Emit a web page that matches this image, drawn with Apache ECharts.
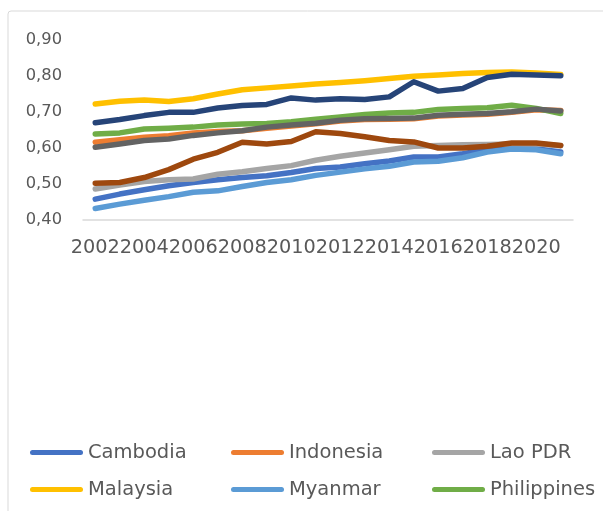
<!DOCTYPE html>
<html>
<head>
<meta charset="utf-8">
<script src="https://cdn.jsdelivr.net/npm/echarts@6/dist/echarts.min.js"></script>
<style>
  html, body { margin: 0; padding: 0; background: #fff; }
  #chart { width: 603px; height: 511px; }
</style>
</head>
<body>
<div id="chart"></div>
<script>
// years on the category axis
const years = ['2002', '2003', '2004', '2005', '2006', '2007', '2008', '2009', '2010', '2011',
  '2012', '2013', '2014', '2015', '2016', '2017', '2018', '2019', '2020', '2021']

// y axis ticks
const yTicks = [0.4, 0.5, 0.6, 0.7, 0.8, 0.9]

// values
const cambodia = [0.458, 0.472, 0.484, 0.495, 0.504, 0.512, 0.518, 0.523, 0.532, 0.543,
  0.547, 0.556, 0.564, 0.575, 0.575, 0.584, 0.595, 0.600, 0.598, 0.589]
const indonesia = [0.616, 0.623, 0.630, 0.634, 0.642, 0.646, 0.648, 0.655, 0.661, 0.667,
  0.675, 0.679, 0.680, 0.681, 0.689, 0.692, 0.694, 0.699, 0.706, 0.704]
const laoPdr = [0.486, 0.497, 0.507, 0.512, 0.514, 0.527, 0.534, 0.543, 0.551, 0.566,
  0.577, 0.586, 0.595, 0.605, 0.607, 0.609, 0.610, 0.611, 0.612, 0.606]
const malaysia = [0.722, 0.730, 0.733, 0.729, 0.737, 0.750, 0.762, 0.767, 0.772, 0.778,
  0.782, 0.787, 0.793, 0.799, 0.803, 0.807, 0.810, 0.811, 0.808, 0.804]
const myanmar = [0.432, 0.444, 0.455, 0.465, 0.477, 0.481, 0.493, 0.504, 0.512, 0.524,
  0.533, 0.542, 0.549, 0.561, 0.563, 0.573, 0.589, 0.597, 0.595, 0.584]
const philippines = [0.639, 0.642, 0.653, 0.655, 0.658, 0.664, 0.667, 0.668, 0.673, 0.680,
  0.686, 0.693, 0.697, 0.699, 0.707, 0.710, 0.712, 0.719, 0.710, 0.696]
const thailand = [0.670, 0.679, 0.690, 0.699, 0.699, 0.711, 0.718, 0.721, 0.739, 0.733,
  0.737, 0.735, 0.742, 0.784, 0.758, 0.765, 0.796, 0.805, 0.803, 0.801]
const timorLeste = [0.502, 0.504, 0.518, 0.540, 0.569, 0.588, 0.616, 0.611, 0.618, 0.645,
  0.640, 0.631, 0.621, 0.617, 0.600, 0.600, 0.605, 0.614, 0.614, 0.607]
const vietNam = [0.602, 0.611, 0.621, 0.625, 0.635, 0.642, 0.648, 0.658, 0.664, 0.669,
  0.677, 0.681, 0.682, 0.683, 0.691, 0.694, 0.696, 0.701, 0.708, 0.703]

const names = ['Cambodia', 'Indonesia', 'Lao PDR', 'Malaysia', 'Myanmar', 'Philippines',
  'Thailand', 'Timor-Leste', 'Viet Nam']
const values = [cambodia, indonesia, laoPdr, malaysia, myanmar, philippines, thailand, timorLeste, vietNam]
const colors = ['#4472C4', '#ED7D31', '#A5A5A5', '#FFC000', '#5B9BD5', '#70AD47',
  '#264478', '#9E480E', '#636363']
// only the first six show in the legend (the rest are cut off)
const legendNames = names.slice(0, 6)

const myChart = echarts.init(document.getElementById('chart'))

const option = {
  animation: false,
  color: colors,
  textStyle: { fontFamily: 'DejaVu Sans' },
  graphic: [
    {
      type: 'rect',
      shape: { x: 8, y: 11, width: 700, height: 600, r: 3 },
      style: { fill: 'none', stroke: '#d9d9d9', lineWidth: 1 },
      silent: true
    }
  ],
  grid: {
    left: 83,
    right: 30,
    top: 40,
    bottom: 291
  },
  xAxis: {
    type: 'category',
    data: years,
    boundaryGap: true,
    axisLine: { lineStyle: { color: '#d9d9d9', width: 1.5 } },
    axisTick: { show: false },
    axisLabel: {
      interval: 1,
      color: '#595959',
      fontSize: 19.3,
      margin: 18,
      fontFamily: 'DejaVu Sans'
    }
  },
  yAxis: {
    type: 'value',
    min: yTicks[0],
    max: yTicks[yTicks.length - 1],
    interval: 0.1,
    splitLine: { show: false },
    axisLine: { show: false },
    axisTick: { show: false },
    axisLabel: {
      color: '#595959',
      fontSize: 16.3,
      margin: 21,
      fontFamily: 'DejaVu Sans',
      formatter: v => v.toFixed(2).replace('.', ',')
    }
  },
  legend: {
    data: legendNames,
    left: 25,
    top: 434,
    width: 600,
    // capsule shaped line sample like the original
    icon: 'path://M2.5,0L50.5,0A2.5,2.5,0,0,1,50.5,5L2.5,5A2.5,2.5,0,0,1,2.5,0Z',
    itemWidth: 53,
    itemHeight: 5,
    itemGap: 10,
    textStyle: {
      color: '#595959',
      fontSize: 19.5,
      fontFamily: 'DejaVu Sans',
      width: 133,
      lineHeight: 27
    }
  },
  series: names.map((name, i) => ({
    name: name,
    type: 'line',
    data: values[i],
    showSymbol: false,
    symbol: 'none',
    lineStyle: { width: 5.5, cap: 'round', join: 'round' }
  }))
}

myChart.setOption(option)
</script>
</body>
</html>
